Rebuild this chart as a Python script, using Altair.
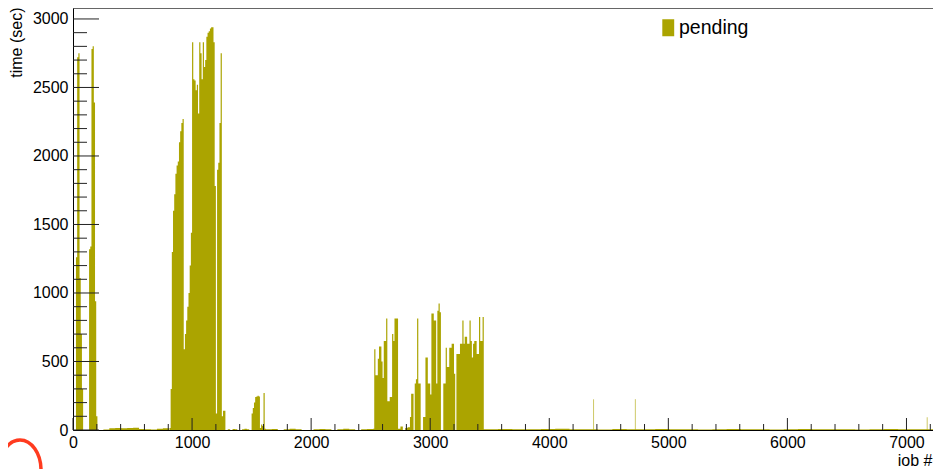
import altair as alt
import pandas as pd

OLIVE = "#aba400"

# ---- pending time per job (sec), binned ----
# each segment: start job #, bin width (jobs), values
first_spike_start, first_spike_step = 25, 10
first_spike = [1260, 2720, 2750, 1110, 700, 300]

second_spike_start, second_spike_step = 135, 10
second_spike = [1320, 1340, 2780, 2800, 2390, 940, 100]

base1_start, base1_step = 205, 50
base1 = [0, 4, 12, 14, 12, 14, 16, 8, 6, 4, 10, 12]

block_start, block_step = 810, 10
block = [15, 300, 1300, 1600, 1720, 1870, 1930, 1960, 2100, 2180,
         2240, 2270, 590, 700, 800, 900, 1000, 1200, 1440, 2830,
         2560, 2550, 2480, 2520, 2310, 2830, 2750, 2560, 2830, 2650,
         2700, 2870, 2900, 2910, 2930, 2940, 2940, 2830, 1780, 120,
         1900, 1950, 2240, 2750, 100, 140, 140]

base2_start, base2_step = 1280, 20
base2 = [0, 5, 0, 8, 5, 0, 0, 6, 10, 5, 0]

bumps_start, bumps_step = 1500, 10
bumps = [120, 160, 200, 240, 245, 250, 245, 15, 40, 30, 270, 10]

base3_start, base3_step = 1620, 50
base3 = [5, 8, 0, 5, 10, 5, 0, 0, 5, 8, 5, 0, 5, 10, 5, 0, 5, 8]

clusterA_start, clusterA_step = 2520, 10
clusterA = [10, 590, 400, 400, 520, 610, 610, 500, 380, 650, 650, 813,
            210, 210, 240, 240, 700, 650, 813, 813, 813]

base4_start, base4_step = 2730, 20
base4 = [10, 25, 0, 15, 20]

clusterB_start, clusterB_step = 2830, 10
clusterB = [94, 265, 265, 0, 340, 370, 813, 340, 340, 0,
            0, 94, 94, 530, 530, 340, 340, 260, 850, 850,
            800, 800, 340, 870, 923, 860, 0, 0, 340, 340,
            600, 460, 460, 600, 600, 630, 630, 410, 0, 555,
            555, 555, 630, 630, 800, 630, 680, 680, 630, 630,
            800, 650, 530, 630, 650, 650, 555, 555, 825, 650,
            650, 825]

base5_start, base5_step = 3450, 120
base5 = [5, 8, 6, 5, 8, 10, 6, 5, 4, 8, 6, 5, 8, 5, 6, 4,
         5, 8, 6, 5, 4, 6, 8, 5, 6, 5, 4, 6, 8, 5, 6, 5]

# isolated thin spikes
spike_jobs = [4372, 4723, 7174]
spike_times = [224, 225, 93]

# axis ticks
x_major = [0, 1000, 2000, 3000, 4000, 5000, 6000, 7000]
x_minor = [v for v in range(200, 7400, 200) if v % 1000 != 0]
y_major = [0, 500, 1000, 1500, 2000, 2500, 3000]
y_minor = [v for v in range(100, 3100, 100) if v % 500 != 0]

X_MAX = 7290
Y_MAX = 3080

segments = [
    (first_spike_start, first_spike_step, first_spike),
    (second_spike_start, second_spike_step, second_spike),
    (base1_start, base1_step, base1),
    (block_start, block_step, block),
    (base2_start, base2_step, base2),
    (bumps_start, bumps_step, bumps),
    (base3_start, base3_step, base3),
    (clusterA_start, clusterA_step, clusterA),
    (base4_start, base4_step, base4),
    (clusterB_start, clusterB_step, clusterB),
    (base5_start, base5_step, base5),
]

starts = {s for s, _, _ in segments}
rows = [{"job": 0, "time": 0}]
for s, st, vals in segments:
    for i, v in enumerate(vals):
        rows.append({"job": s + i * st, "time": v})
    end = s + len(vals) * st
    if end not in starts:
        rows.append({"job": min(end, X_MAX), "time": 0})
df = pd.DataFrame(rows).sort_values("job").reset_index(drop=True)
df["series"] = "pending"

spikes_df = pd.DataFrame({"job": spike_jobs, "time": spike_times})

xs = alt.Scale(domain=[0, X_MAX], nice=False, zero=False)
ys = alt.Scale(domain=[0, Y_MAX], nice=False, zero=False)

FONT = "Liberation Sans"

x_axis = alt.Axis(
    values=x_major, format="d", labelFontSize=16, labelFont=FONT,
    labelColor="black", labelPadding=4, ticks=False, tickSize=0,
    grid=False, domainColor="black", labelFlush=False, labelOverlap=False,
    title="iob #", titleFont=FONT, titleFontSize=16, titleFontWeight="normal",
    titleColor="black", titleAlign="right", titleAnchor="end",
    titleBaseline="alphabetic", titleX=859, titleY=35,
)
y_axis = alt.Axis(
    values=y_major, format="d", labelFontSize=16, labelFont=FONT,
    labelColor="black", labelPadding=5, ticks=False, tickSize=0,
    grid=False, domainColor="black", labelFlush=False, labelOverlap=False,
    title="time (sec)", titleFont=FONT, titleFontSize=16,
    titleFontWeight="normal", titleColor="black", titleAngle=270,
    titleAlign="right", titleAnchor="end", titleBaseline="alphabetic",
    titleX=-52, titleY=-1,
)

area = alt.Chart(df).mark_area(interpolate="step-after").encode(
    x=alt.X("job:Q", scale=xs, axis=x_axis),
    y=alt.Y("time:Q", scale=ys, axis=y_axis, stack=None),
    color=alt.Color(
        "series:N",
        scale=alt.Scale(domain=["pending"], range=[OLIVE]),
        legend=alt.Legend(
            orient="none", legendX=585.5, legendY=10, title=None,
            labelFont=FONT, labelFontSize=19.5, labelColor="black",
            symbolType="M-0.7,-1L0.7,-1L0.7,1L-0.7,1Z", symbolSize=289,
            symbolStrokeWidth=0, symbolOpacity=1, labelOffset=1, padding=0,
        ),
    ),
)

spikes = alt.Chart(spikes_df).mark_rule(color=OLIVE, strokeWidth=1, opacity=0.6).encode(
    x=alt.X("job:Q", scale=xs, axis=x_axis),
    y=alt.Y("time:Q", scale=ys, axis=y_axis),
    y2=alt.datum(0),
)

TICK = "#222222"
ymaj = alt.Chart(pd.DataFrame({"time": y_major})).mark_rule(color=TICK, strokeWidth=1).encode(
    y=alt.Y("time:Q", scale=ys, axis=y_axis), x=alt.value(0), x2=alt.value(26))
ymin = alt.Chart(pd.DataFrame({"time": y_minor})).mark_rule(color=TICK, strokeWidth=1).encode(
    y=alt.Y("time:Q", scale=ys, axis=y_axis), x=alt.value(0), x2=alt.value(14))
xmaj = alt.Chart(pd.DataFrame({"job": x_major})).mark_rule(color=TICK, strokeWidth=1).encode(
    x=alt.X("job:Q", scale=xs, axis=x_axis), y=alt.value(422), y2=alt.value(410))
xmin = alt.Chart(pd.DataFrame({"job": x_minor})).mark_rule(color=TICK, strokeWidth=1).encode(
    x=alt.X("job:Q", scale=xs, axis=x_axis), y=alt.value(422), y2=alt.value(416))

# red hand-drawn style mark in the lower-left corner
red_mark = alt.Chart(pd.DataFrame({"a": [0]})).mark_point(
    shape="M-0.7,0A0.7,1 0 1 1 0.7,0A0.7,1 0 1 1 -0.7,0Z",
    size=3600, filled=False, stroke="#ff3b1f", strokeWidth=3.5, opacity=1,
).encode(x=alt.value(-53), y=alt.value(462))

# the page leaves 925px for the svg; the view runs 8px past it (clipped),
# so that the x scale keeps the reference's 868px plot width
chart = alt.layer(area, spikes, ymin, ymaj, xmin, xmaj, red_mark).properties(
    width=868, height=422,
    autosize=alt.AutoSizeParams(type="none"),
    padding={"left": 65, "top": 0, "right": -8, "bottom": 39},
    background="white",
).configure_view(stroke="#666666", strokeWidth=1)

chart.save("out.html", embed_options={"renderer": "svg", "actions": False})
